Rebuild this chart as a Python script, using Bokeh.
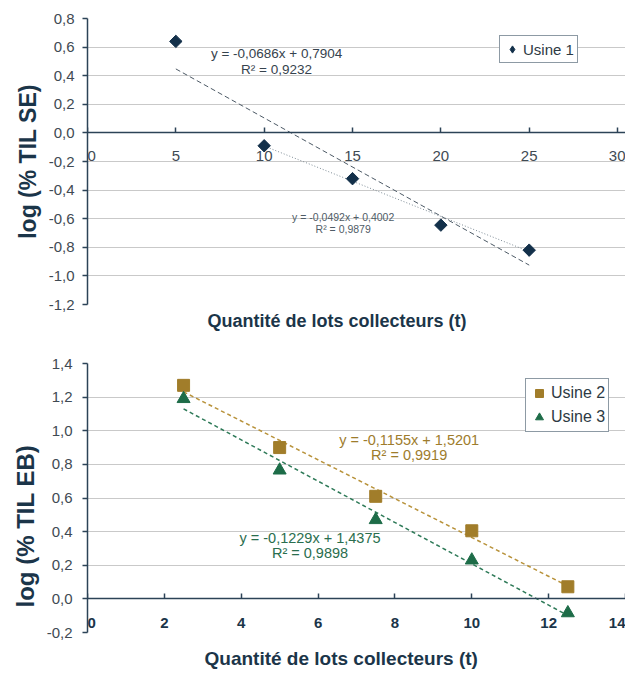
import numpy as np
from bokeh.plotting import figure
from bokeh.layouts import column
from bokeh.models import (Legend, LegendItem, Title, FixedTicker,
                          CustomJSTickFormatter, Range1d)
from bokeh.core.properties import value
from bokeh.embed import file_html
from bokeh.resources import INLINE

FONT = "Liberation Sans"
NAVY = "#1b3549"
TICK_COL = "#3f4a53"
GRID_COL = "#c9c9c9"

# ---------------- Data: chart 1 (Usine 1) ----------------
u1_qty = [5, 10, 15, 20, 25]
u1_log = [0.64, -0.09, -0.32, -0.645, -0.82]
# trend lines shown on the chart: slope, intercept, x start, x end
u1_trend_all = [-0.0686, 0.7904, 5, 25]
u1_trend_sub = [-0.0492, 0.4002, 10, 25]
u1_eq_all = ["y = -0,0686x + 0,7904", "R² = 0,9232"]
u1_eq_sub = ["y = -0,0492x + 0,4002", "R² = 0,9879"]
c1_xticks = [0, 5, 10, 15, 20, 25, 30]
c1_yticks = [0.8, 0.6, 0.4, 0.2, 0.0, -0.2, -0.4, -0.6, -0.8, -1.0, -1.2]

# ---------------- Data: chart 2 (Usine 2 / Usine 3) ----------------
c2_qty = [2.5, 5, 7.5, 10, 12.5]
u2_log = [1.27, 0.90, 0.61, 0.405, 0.072]
u3_log = [1.19, 0.765, 0.47, 0.23, -0.084]
u2_trend = [-0.1155, 1.5201, 2.5, 12.5]
u3_trend = [-0.1229, 1.4375, 2.5, 12.5]
u2_eq = ["y = -0,1155x + 1,5201", "R² = 0,9919"]
u3_eq = ["y = -0,1229x + 1,4375", "R² = 0,9898"]
c2_xticks = [0, 2, 4, 6, 8, 10, 12, 14]
c2_yticks = [1.4, 1.2, 1.0, 0.8, 0.6, 0.4, 0.2, 0.0, -0.2]

x_title = "Quantité de lots collecteurs (t)"
y_title_1 = "log (% TIL SE)"
y_title_2 = "log (% TIL EB)"

yfmt = CustomJSTickFormatter(code="""
const v = Math.abs(tick) < 1e-9 ? 0 : tick;
return v.toFixed(1).replace('.', ',');
""")
# the origin label is padded so that it is not cut by the y axis edge
xfmt = CustomJSTickFormatter(code="""
const v = Math.round(tick);
return v === 0 ? '\\u00a0\\u00a00' : String(v);
""")


def trend_xy(coef):
    s, b, x0, x1 = coef
    return [x0, x1], [s * x0 + b, s * x1 + b]


def style(p, xticks, yticks, xbold):
    p.outline_line_color = None
    p.background_fill_color = "white"
    p.border_fill_color = "white"
    p.xgrid.grid_line_color = None
    p.ygrid.grid_line_color = GRID_COL
    p.ygrid.grid_line_width = 1
    p.ygrid.ticker = FixedTicker(ticks=yticks)
    p.yaxis.ticker = FixedTicker(ticks=yticks)
    p.xaxis.ticker = FixedTicker(ticks=xticks)
    p.yaxis.formatter = yfmt
    p.xaxis.formatter = xfmt
    p.xaxis.fixed_location = 0
    for ax in (p.xaxis, p.yaxis):
        ax.axis_line_color = "#2c4357"
        ax.axis_line_width = 1.5
        ax.major_tick_line_color = "#2c4357"
        ax.major_tick_line_width = 1.5
        ax.minor_tick_line_color = None
        ax.major_label_text_font = FONT
        ax.major_label_text_font_size = "15px"
        ax.major_label_text_color = TICK_COL
    p.yaxis.major_tick_out = 5
    p.yaxis.major_tick_in = 0
    p.xaxis.major_tick_out = 0
    p.xaxis.major_tick_in = 5
    if xbold:
        p.xaxis.major_label_text_font_style = "bold"
        p.xaxis.major_label_text_color = NAVY


# ---------------- Figure 1 ----------------
p1 = figure(width=625, height=338, x_range=Range1d(0, 30.45), y_range=Range1d(-1.2, 0.8),
            output_backend="svg", toolbar_location=None,
            min_border_left=87, min_border_right=0, min_border_top=18, min_border_bottom=34)
style(p1, c1_xticks, c1_yticks, False)
p1.yaxis.major_label_standoff = 8
p1.xaxis.major_label_standoff = 14

lx, ly = trend_xy(u1_trend_all)
p1.line(lx, ly, line_color="#4d5a66", line_width=1, line_dash="5 3")
lx, ly = trend_xy(u1_trend_sub)
p1.line(lx, ly, line_color="#7d8b95", line_width=1, line_dash="1 2")
p1.scatter(u1_qty, u1_log, marker="square", size=8.8, angle=np.pi / 4,
           fill_color="#13304a", line_color="#13304a")
# legend-only glyph (no data points of its own)
r1 = p1.scatter([np.nan], [np.nan], marker="diamond", size=12,
                fill_color="#13304a", line_color="#13304a")

p1.text(x=[10.7, 10.7], y=[0.557, 0.445], text=u1_eq_all, text_align="center",
        text_baseline="middle", text_font=value(FONT), text_font_size="13.5px",
        text_color="#36434e")
p1.text(x=[14.47, 14.47], y=[-0.587, -0.669], text=u1_eq_sub, text_align="center",
        text_baseline="middle", text_font=value(FONT), text_font_size="10.5px",
        text_color="#4f5c66")

leg1 = Legend(items=[LegendItem(label="Usine 1", renderers=[r1])], location=(412, 241),
              label_text_font=FONT, label_text_font_size="15px", label_text_color="#2d3a44",
              border_line_color=NAVY, border_line_width=1.5, padding=3, margin=0,
              glyph_width=18, glyph_height=20, label_standoff=2, label_height=18,
              background_fill_alpha=1)
p1.add_layout(leg1)

p1.add_layout(Title(text=y_title_1, align="center", text_font=FONT,
                    text_font_size="23px", text_font_style="bold", text_color=NAVY,
                    standoff=10), "left")
p1.add_layout(Title(text=x_title, align="left", offset=120, text_font=FONT,
                    text_font_size="18px", text_font_style="bold", text_color=NAVY,
                    standoff=9), "below")

# ---------------- Figure 2 ----------------
p2 = figure(width=625, height=343, x_range=Range1d(0, 14), y_range=Range1d(-0.2, 1.4),
            output_backend="svg", toolbar_location=None,
            min_border_left=83, min_border_right=0, min_border_top=25, min_border_bottom=49)
style(p2, c2_xticks, c2_yticks, True)
p2.yaxis.major_label_standoff = 10
p2.xaxis.major_label_standoff = 15

lx, ly = trend_xy(u2_trend)
p2.line(lx, ly, line_color="#b8923a", line_width=1.5, line_dash="4 3")
lx, ly = trend_xy(u3_trend)
p2.line(lx, ly, line_color="#2e7a58", line_width=1.5, line_dash="4 3")
r2 = p2.scatter(c2_qty, u2_log, marker="square", size=12,
                fill_color="#a17d2a", line_color="#a17d2a")
r3 = p2.scatter(c2_qty, u3_log, marker="triangle", size=13,
                fill_color="#1d6c48", line_color="#1d6c48")

p2.text(x=[8.37, 8.37], y=[0.946, 0.855], text=u2_eq, text_align="center",
        text_baseline="middle", text_font=value(FONT), text_font_size="14.5px",
        text_color="#9e7c2c")
p2.text(x=[5.79, 5.79], y=[0.365, 0.272], text=u3_eq, text_align="center",
        text_baseline="middle", text_font=value(FONT), text_font_size="14.5px",
        text_color="#2a6e4e")

leg2 = Legend(items=[LegendItem(label="Usine 2", renderers=[r2]),
                     LegendItem(label="Usine 3", renderers=[r3])], location=(438, 200),
              label_text_font=FONT, label_text_font_size="16px", label_text_color="#2d3a44",
              border_line_color=NAVY, border_line_width=1.5, padding=3, margin=0, spacing=2,
              glyph_width=20, glyph_height=22, label_standoff=2, label_height=20,
              background_fill_alpha=1)
p2.add_layout(leg2)

p2.add_layout(Title(text=y_title_2, align="left", offset=25, text_font=FONT,
                    text_font_size="24px", text_font_style="bold", text_color=NAVY,
                    standoff=10), "left")
p2.add_layout(Title(text=x_title, align="left", offset=117, text_font=FONT,
                    text_font_size="19px", text_font_style="bold", text_color=NAVY,
                    standoff=26), "below")

layout = column(p1, p2, spacing=0)
open("out.html", "w").write(file_html(layout, INLINE))
